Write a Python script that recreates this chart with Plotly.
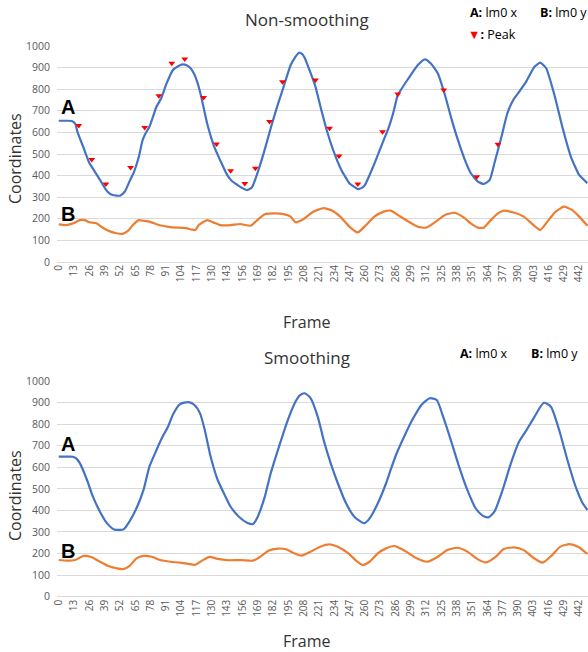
import plotly.graph_objects as go

# ---------------- data ----------------
TICK_FRAMES = list(range(0, 443, 13))
TICK_LABELS = [str(v) for v in TICK_FRAMES]

# Non-smoothing, A: lm0 x
raw_a_frames = [0, 6, 11, 14, 16, 21, 26, 31, 35, 40, 43, 46, 52, 56, 60, 64, 68, 71, 73, 77,
                83, 87, 91, 97, 101, 105, 109, 112, 115, 118, 121, 126, 132, 137, 143, 147, 152,
                156, 160, 164, 168, 174, 180, 185, 191, 197, 201, 204, 207, 209, 214, 218, 223,
                228, 233, 240, 247, 251, 254, 257, 260, 267, 276, 280, 284, 288, 297, 305, 311,
                316, 322, 328, 333, 339, 345, 350, 356, 361, 366, 370, 376, 381, 386, 391, 397,
                404, 409, 414, 421, 428, 435, 442, 449]
raw_a_values = [654, 654, 653, 640, 600, 530, 458, 415, 380, 335, 318, 310, 307, 325, 372, 418,
                487, 560, 588, 626, 719, 758, 819, 889, 905, 915, 910, 897, 870, 827, 765, 642,
                534, 472, 403, 375, 356, 342, 333, 345, 400, 503, 619, 711, 812, 912, 950, 969,
                962, 943, 873, 812, 704, 603, 519, 426, 364, 348, 338, 342, 356, 441, 565, 619,
                688, 773, 850, 912, 938, 919, 873, 773, 673, 565, 472, 411, 372, 361, 380, 457,
                580, 688, 750, 788, 835, 904, 923, 897, 773, 619, 487, 403, 365]

# Non-smoothing, B: lm0 y
raw_b_frames = [0, 6, 12, 18, 22, 26, 32, 37, 43, 49, 54, 59, 63, 68, 73, 77, 85, 91, 97, 108,
                113, 116, 119, 126, 132, 137, 146, 154, 163, 168, 175, 183, 191, 197, 201, 208,
                216, 225, 232, 239, 247, 254, 261, 268, 276, 282, 288, 297, 305, 312, 319, 328,
                336, 343, 350, 356, 361, 367, 373, 378, 387, 395, 404, 409, 415, 422, 429, 436,
                442, 449]
raw_b_values = [174, 171, 179, 194, 194, 184, 179, 160, 143, 133, 130, 145, 171, 194, 190, 187,
                171, 165, 160, 157, 150, 148, 171, 194, 182, 171, 171, 176, 168, 191, 221, 225,
                222, 210, 184, 199, 233, 249, 238, 210, 163, 137, 171, 210, 233, 238, 218, 187,
                163, 159, 182, 218, 228, 210, 179, 159, 159, 194, 225, 238, 228, 210, 167, 148,
                187, 233, 256, 241, 210, 168]

# Non-smoothing, detected peaks
peak_frames = [17, 28, 40, 61, 73, 85, 96, 107, 123, 134, 146, 158, 167, 179, 190, 218, 230,
               238, 254, 275, 288, 327, 355, 373]
peak_values = [632, 475, 361, 437, 623, 770, 920, 940, 762, 546, 423, 364, 434, 650, 835, 843,
               619, 491, 361, 603, 778, 796, 395, 545]

# Smoothing, A: lm0 x
smooth_a_frames = [0, 6, 12, 15, 18, 24, 29, 35, 41, 47, 52, 55, 60, 66, 72, 77, 83, 88, 93, 97,
                   103, 110, 115, 120, 124, 129, 135, 141, 146, 153, 160, 165, 169, 175, 180, 187,
                   194, 201, 205, 209, 214, 220, 225, 231, 237, 244, 251, 258, 260, 264, 271,
                   278, 282, 287, 294, 301, 308, 315, 321, 326, 333, 340, 347, 354, 360, 365,
                   370, 377, 384, 391, 397, 404, 412, 418, 425, 432, 439, 445, 449]
smooth_a_values = [649, 649, 649, 640, 618, 541, 464, 394, 340, 312, 310, 312, 348, 410, 495,
                   603, 680, 740, 790, 845, 893, 902, 890, 850, 773, 649, 541, 471, 417, 371,
                   343, 337, 371, 464, 572, 695, 811, 904, 935, 943, 920, 834, 726, 618, 526,
                   433, 371, 343, 342, 363, 433, 526, 590, 665, 750, 827, 889, 920, 912, 842,
                   726, 603, 495, 410, 376, 368, 394, 495, 618, 719, 770, 834, 899, 881, 773,
                   634, 510, 433, 402]

# Smoothing, B: lm0 y
smooth_b_frames = [0, 7, 14, 21, 28, 35, 42, 49, 55, 61, 66, 72, 79, 86, 95, 103, 110, 116, 121,
                   128, 135, 144, 155, 165, 171, 178, 186, 193, 200, 206, 213, 222, 230, 237,
                   246, 253, 258, 264, 271, 278, 285, 288, 295, 304, 313, 322, 330, 339, 347,
                   356, 363, 371, 378, 387, 395, 402, 411, 419, 426, 434, 441, 449]
smooth_b_values = [170, 167, 170, 189, 183, 162, 142, 132, 128, 147, 178, 189, 185, 170, 162,
                   158, 152, 148, 165, 185, 175, 169, 170, 167, 185, 213, 223, 220, 201, 190,
                   206, 232, 243, 232, 201, 165, 147, 162, 201, 224, 235, 229, 209, 178, 162,
                   185, 216, 227, 209, 173, 159, 185, 221, 229, 216, 185, 158, 193, 232, 244,
                   232, 198]

# ---------------- styling / layout helpers ----------------
W, H = 588, 652
PL = 57                      # plot left in px
PW = W - PL                  # plot width in px
BLUE = "#4472C4"
ORANGE = "#ED7D31"
GRID = "#D9D9D9"
TICK_COLOR = "#595959"
FONT = "Open Sans"


def px(x):
    return (x - PL) / PW


def py(y):
    return (H - y) / H


fig = go.Figure()

line_common = dict(mode="lines", hoverinfo="skip", showlegend=False)
fig.add_trace(go.Scatter(x=raw_a_frames, y=raw_a_values,
                         line=dict(color=BLUE, width=2.2, shape="spline", smoothing=0.5),
                         xaxis="x", yaxis="y", **line_common))
fig.add_trace(go.Scatter(x=raw_b_frames, y=raw_b_values,
                         line=dict(color=ORANGE, width=2.2, shape="spline", smoothing=0.5),
                         xaxis="x", yaxis="y", **line_common))
fig.add_trace(go.Scatter(x=peak_frames, y=peak_values, mode="markers",
                         marker=dict(symbol="triangle-down", color="#FF0000", size=6),
                         xaxis="x", yaxis="y", hoverinfo="skip", showlegend=False))
fig.add_trace(go.Scatter(x=smooth_a_frames, y=smooth_a_values,
                         line=dict(color=BLUE, width=2.2, shape="spline", smoothing=0.6),
                         xaxis="x2", yaxis="y2", **line_common))
fig.add_trace(go.Scatter(x=smooth_b_frames, y=smooth_b_values,
                         line=dict(color=ORANGE, width=2.2, shape="spline", smoothing=0.6),
                         xaxis="x2", yaxis="y2", **line_common))


def xaxis_style():
    return dict(range=[-1.5, 449.5], tickmode="array", tickvals=TICK_FRAMES,
                ticktext=TICK_LABELS, tickangle=-90,
                tickfont=dict(family=FONT, size=10, color=TICK_COLOR),
                ticklabeloverflow="allow", showgrid=False, zeroline=False, showline=False,
                ticks="", automargin=False, fixedrange=True)


def yaxis_style():
    return dict(range=[0, 1000], dtick=100, tick0=0, showgrid=True, gridcolor=GRID, gridwidth=1,
                zeroline=True, zerolinecolor=GRID, zerolinewidth=1, showline=False,
                tickfont=dict(family=FONT, size=10.5, color=TICK_COLOR), ticks="",
                ticklabelstandoff=6, automargin=False, fixedrange=True)


annotations = []


def ann(text, x, y, size, color="#000000", xanchor="center", textangle=0, family=FONT):
    annotations.append(dict(text=text, x=px(x), y=py(y), xref="paper", yref="paper",
                            xanchor=xanchor, yanchor="middle", showarrow=False,
                            textangle=textangle, font=dict(family=family, size=size, color=color)))


# titles
ann("Non-smoothing", 307, 19, 17, "#333333")
ann("Smoothing", 307, 358, 17, "#333333")
# legends
ann("<b>A:</b> lm0 x", 468, 13, 12.5, xanchor="left")
ann("<b>B:</b> lm0 y", 538, 13, 12.5, xanchor="left")
ann("<span style='color:#FF0000'>▼</span><b>:</b> Peak", 466, 34, 12.5, xanchor="left")
ann("<b>A:</b> lm0 x", 458, 353, 12.5, xanchor="left")
ann("<b>B:</b> lm0 y", 529, 353, 12.5, xanchor="left")
# axis titles
ann("Coordinates", 15, 159, 16, "#333333", textangle=-90)
ann("Coordinates", 15, 496, 16, "#333333", textangle=-90)
ann("Frame", 307, 322, 16, "#333333")
ann("Frame", 307, 641, 16, "#333333")
# series letters
ann("<b>A</b>", 68, 107, 20, family="Liberation Sans")
ann("<b>B</b>", 68, 214, 20, family="Liberation Sans")
ann("<b>A</b>", 68, 444, 20, family="Liberation Sans")
ann("<b>B</b>", 68, 551, 20, family="Liberation Sans")

fig.update_layout(
    width=W, height=H, template="none",
    margin=dict(l=PL, r=0, t=0, b=0, pad=0),
    paper_bgcolor="white", plot_bgcolor="white",
    xaxis=dict(domain=[0, 1], anchor="y", **xaxis_style()),
    yaxis=dict(domain=[py(262), py(46)], anchor="x", **yaxis_style()),
    xaxis2=dict(domain=[0, 1], anchor="y2", **xaxis_style()),
    yaxis2=dict(domain=[py(596.7), py(381)], anchor="x2", **yaxis_style()),
    annotations=annotations,
    showlegend=False,
    hovermode=False,
)

fig.write_html(
    "out.html",
    config={"displayModeBar": False, "staticPlot": True},
    post_script="document.body.style.margin='0';document.body.style.padding='0';"
                "document.documentElement.style.overflow='hidden';"
                "var gd=document.getElementById('{plot_id}');Plotly.relayout(gd,{});",
)
